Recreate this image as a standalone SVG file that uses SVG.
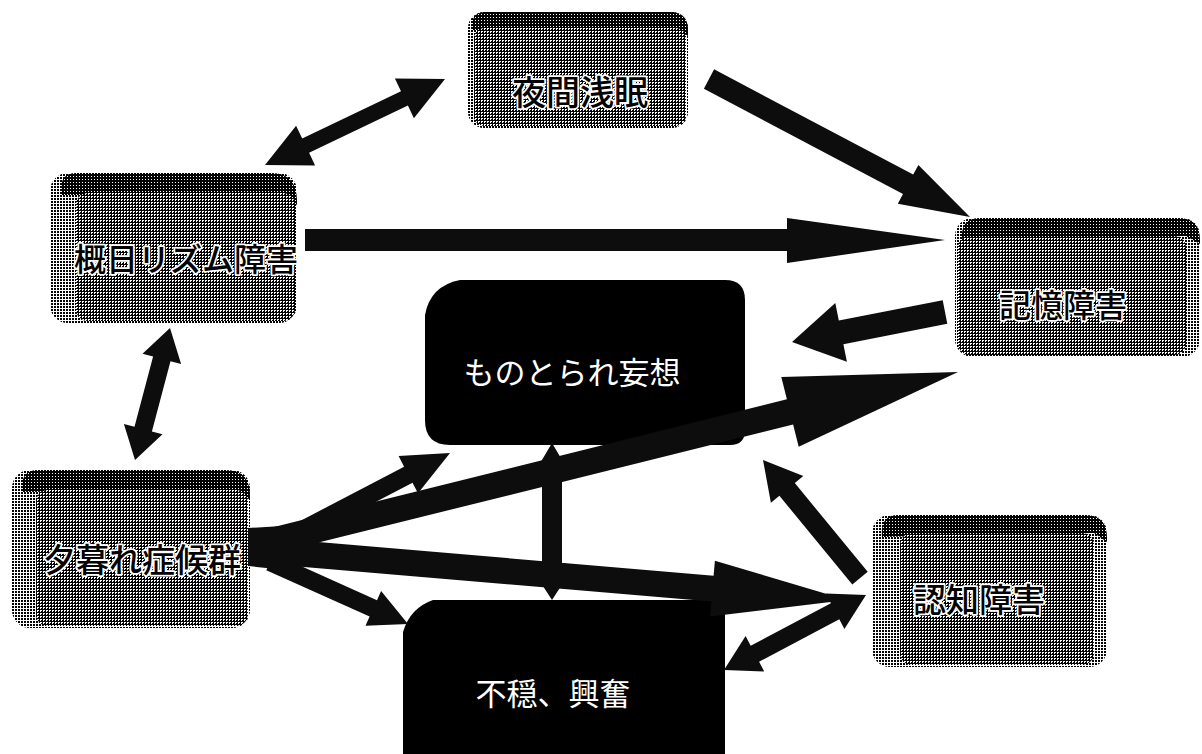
<svg xmlns="http://www.w3.org/2000/svg" width="1202" height="754" viewBox="0 0 1202 754">
  <defs>
    <pattern id="htFace" width="3" height="3" patternUnits="userSpaceOnUse">
      <rect width="3" height="3" fill="#000"/>
      <rect x="1" y="1" width="2" height="1" fill="#fff"/>
      <rect x="1" y="2" width="1" height="1" fill="#fff"/>
    </pattern>
    <pattern id="htSide" width="3" height="3" patternUnits="userSpaceOnUse">
      <rect width="3" height="3" fill="#fff"/>
      <rect width="2" height="2" fill="#000"/>
    </pattern>
    <pattern id="htTop" width="3" height="3" patternUnits="userSpaceOnUse">
      <rect width="3" height="3" fill="#000"/>
      <rect x="1" y="2" width="1" height="1" fill="#fff"/>
    </pattern>
  </defs>
  <style>
    .side { fill: url(#htSide); }
    .face { fill: url(#htFace); }
    .top { fill: url(#htTop); }
    .blk { fill: #000; }
    .gt { font-family: "Noto Sans CJK JP", "Noto Sans CJK SC", sans-serif; font-weight: 500; fill: #000; stroke: #fff; stroke-width: 3.5; paint-order: stroke; stroke-linejoin: round; text-anchor: middle; }
    .wt { font-family: "Noto Sans CJK JP", "Noto Sans CJK SC", sans-serif; fill: #fff; text-anchor: middle; }
    .arr { fill: #0d0d0d; }
  </style>

  <g id="node-yakan">
    <rect class="side" x="468" y="12" width="220" height="116" rx="16"/>
    <path class="top" d="M472,30 Q470,12 486,12 H670 Q688,12 688,30 V36 L676,28 Z"/>
    <rect class="face" x="474" y="28" width="212" height="98" rx="10"/>
    <text class="gt" x="580" y="105" font-size="34">夜間浅眠</text>
  </g>

  <g id="node-gaijitsu">
    <rect class="side" x="50" y="173" width="247" height="150" rx="18"/>
    <path class="top" d="M62,195 Q58,173 76,173 H272 Q296,173 297,200 V205 L282,195 Z"/>
    <rect class="face" x="76" y="193" width="219" height="128" rx="12"/>
    <text class="gt" x="186" y="271" font-size="32">概日リズム障害</text>
  </g>

  <g id="node-kioku">
    <rect class="side" x="955" y="218" width="245" height="139" rx="18"/>
    <path class="top" d="M962,240 Q960,218 980,218 H1178 Q1200,218 1200,240 V244 L1186,236 Z"/>
    <rect class="face" x="958" y="236" width="228" height="119" rx="12"/>
    <text class="gt" x="1063" y="317" font-size="32">記憶障害</text>
  </g>

  <g id="node-yugure">
    <rect class="side" x="12" y="470" width="238" height="158" rx="18"/>
    <path class="top" d="M22,492 Q20,470 38,470 H226 Q250,470 250,496 V500 L236,490 Z"/>
    <rect class="face" x="36" y="490" width="212" height="136" rx="12"/>
    <text class="gt" x="142" y="572" font-size="33">夕暮れ症候群</text>
  </g>

  <g id="node-ninchi">
    <rect class="side" x="872" y="515" width="235" height="152" rx="18"/>
    <path class="top" d="M882,537 Q880,515 898,515 H1085 Q1107,515 1107,538 V542 L1094,533 Z"/>
    <rect class="face" x="900" y="533" width="194" height="132" rx="12"/>
    <text class="gt" x="979" y="612" font-size="33">認知障害</text>
  </g>

  <g id="node-monotorare">
    <path class="blk" d="M425,315 Q430,286 460,280 H725 Q745,280 745,300 V430 Q745,445 730,445 H450 Q425,445 425,420 Z"/>
    <text class="wt" x="572" y="384" font-size="31">ものとられ妄想</text>
  </g>

  <g id="node-fuon">
    <path class="blk" d="M403,632 Q410,608 433,600 H710 Q725,600 725,615 V760 H403 Z"/>
    <text class="wt" x="553" y="705" font-size="31">不穏、興奮</text>
  </g>

  <g id="connectors">
    <!-- 概日リズム障害 <-> 夜間浅眠 -->
    <polygon class="arr" points="265,165 315.1,165.4 309.1,152.8 407.9,105.6 413.9,118.2 445,79 394.9,78.6 401,91.2 302.2,138.4 296.1,125.8"/>
    <!-- 夜間浅眠 -> 記憶障害 -->
    <polygon class="arr" points="703.9,88.7 903,194 897.8,203.7 970,217 918.4,164.9 913.2,174.6 714.1,69.3"/>
    <!-- 概日リズム障害 -> 記憶障害 -->
    <polygon class="arr" points="305,229 787,229 787,218 945,240 787,263 787,251 305,251"/>
    <!-- 記憶障害 -> ものとられ妄想 -->
    <polygon class="arr" points="942.7,300.2 838.8,320.6 835.3,303 792,342 846.9,361.8 843.4,344.2 947.3,323.8"/>
    <!-- 概日リズム障害 <-> 夕暮れ症候群 -->
    <polygon class="arr" points="170,328 142.5,353.8 153.1,356.6 134.5,426.8 123.9,424 135,460 162.5,434.2 151.9,431.4 170.5,361.2 181.1,364"/>
    <!-- ものとられ妄想 <-> 不穏、興奮 -->
    <polygon class="arr" points="552,443 565,465 562,465 562,580 565,580 552,600 539,580 542,580 542,465 539,465"/>
    <!-- junction at 夕暮れ症候群 -->
    <polygon class="arr" points="248,528 282,526 286,570 248,566"/>
    <!-- 夕暮れ症候群 -> ものとられ妄想 -->
    <polygon class="arr" points="272.2,556 412.5,482.7 418,493.3 450,453 398.6,456.1 404.1,466.7 263.8,540"/>
    <!-- 夕暮れ症候群 -> 記憶障害 -->
    <polygon class="arr" points="258.1,557.6 793.1,424.4 798.7,446.7 958,372 781.3,376.9 786.9,399.2 251.9,532.4"/>
    <!-- 夕暮れ症候群 -> 認知障害 -->
    <polygon class="arr" points="256.9,563 711.4,601.6 710.1,616.5 847,600 714.9,560.7 713.6,575.7 259.1,537"/>
    <!-- 夕暮れ症候群 -> 不穏、興奮 -->
    <polygon class="arr" points="266.3,570.2 369.6,616.6 365.5,625.7 408,624 381.1,591.1 377,600.2 273.7,553.8"/>
    <!-- 認知障害 -> ものとられ妄想 -->
    <polygon class="arr" points="867.7,571.7 794.8,483.1 803.3,476.1 763,460 770.9,502.7 779.4,495.8 852.3,584.4"/>
    <!-- 不穏、興奮 <-> 認知障害 -->
    <polygon class="arr" points="724,670 764.2,671.4 759.1,661.7 839.3,619.3 844.4,629 866,595 825.8,593.6 830.9,603.3 750.7,645.7 745.6,636"/>
  </g>
</svg>
